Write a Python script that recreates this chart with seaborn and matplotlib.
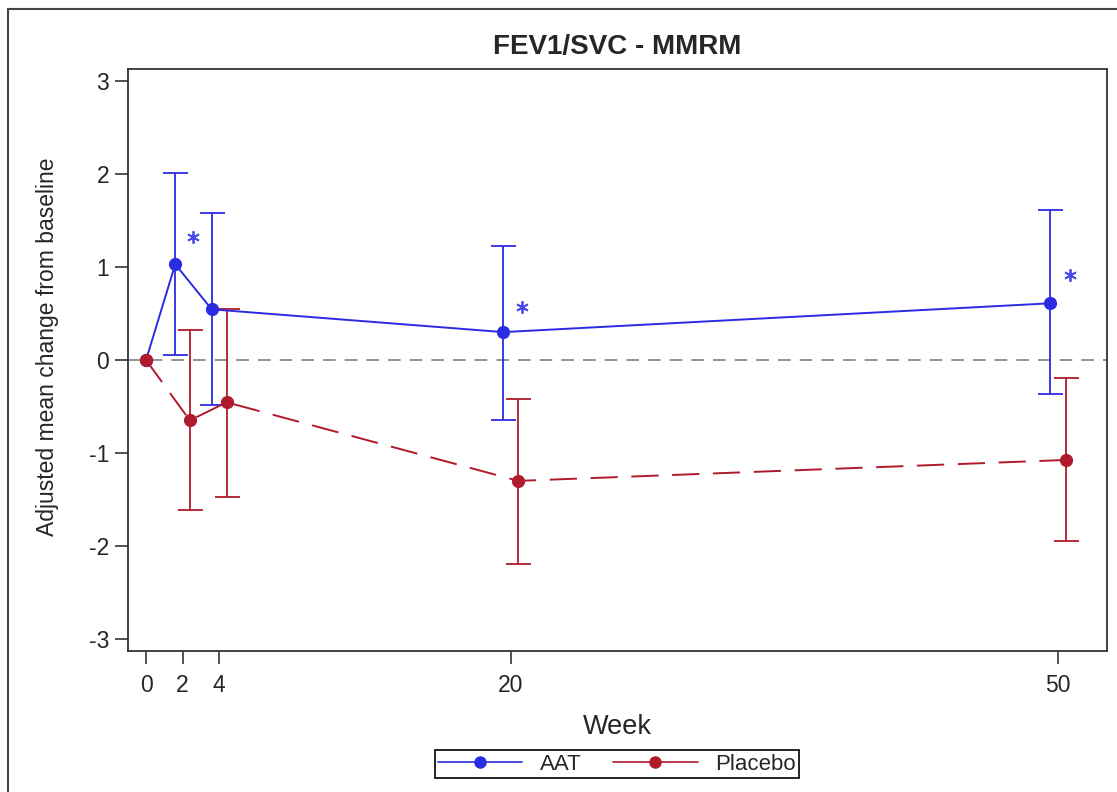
import pandas as pd
import seaborn as sns
import matplotlib.pyplot as plt
from matplotlib.lines import Line2D
from matplotlib.patches import Rectangle

# valores
semanas = [0, 2, 4, 20, 50]
grupos = ['AAT', 'Placebo']

aat_x = [0, 1.6, 3.6, 19.6, 49.6]
aat_media = [0, 1.03, 0.545, 0.30, 0.61]
aat_sup = [0, 2.01, 1.58, 1.23, 1.61]
aat_inf = [0, 0.05, -0.48, -0.645, -0.37]

pbo_x = [0, 2.4, 4.42, 20.42, 50.45]
pbo_media = [0, -0.65, -0.455, -1.30, -1.075]
pbo_sup = [0, 0.32, 0.55, -0.42, -0.197]
pbo_inf = [0, -1.61, -1.47, -2.19, -1.95]

# asteriscos de significância
estrela_x = [2.58, 20.6, 50.66]
estrela_y = [1.32, 0.57, 0.91]

cores = {'AAT': '#2b2be3', 'Placebo': '#b01a2c'}

df = pd.DataFrame({
    'x': aat_x + pbo_x,
    'media': aat_media + pbo_media,
    'grupo': ['AAT'] * len(aat_x) + ['Placebo'] * len(pbo_x),
})

sns.set_style('white')
plt.rcParams['font.family'] = ['Liberation Sans', 'DejaVu Sans']
plt.rcParams['axes.unicode_minus'] = False

fig = plt.figure(figsize=(11.17, 7.92), dpi=100)
ax = fig.add_axes([0.1146, 0.178, 0.991 - 0.1146, 0.9129 - 0.178])

ax.axhline(0, color='#8a8a8a', lw=1.3, dashes=(7, 5), zorder=1)

sns.lineplot(data=df, x='x', y='media', hue='grupo', style='grupo',
             palette=cores, dashes={'AAT': '', 'Placebo': (14, 7)},
             markers={'AAT': 'o', 'Placebo': 'o'}, markersize=9.5,
             markeredgewidth=0, lw=1.4, legend=False, ax=ax, zorder=3)

for xs, m, sup, inf, g in [(aat_x, aat_media, aat_sup, aat_inf, 'AAT'),
                           (pbo_x, pbo_media, pbo_sup, pbo_inf, 'Placebo')]:
    xs_e = xs[1:]
    m_e = m[1:]
    err = [[a - b for a, b in zip(m_e, inf[1:])], [b - a for a, b in zip(m_e, sup[1:])]]
    ax.errorbar(xs_e, m_e, yerr=err, fmt='none', ecolor=cores[g], elinewidth=1.3,
                capsize=9, capthick=1.3, zorder=2)

ax.plot(estrela_x, estrela_y, ls='none', marker=(6, 2, 0), markersize=9,
        markeredgewidth=1.3, color='#4a4ae8')

ax.set_xlim(-0.99, 52.7)
ax.set_ylim(-3.13, 3.13)
ax.set_xticks(semanas)
ax.set_yticks([-3, -2, -1, 0, 1, 2, 3])
ax.tick_params(axis='both', which='major', labelsize=16.5, length=9.5, width=1.1,
               color='#222222', direction='out', left=True, bottom=True, pad=4)
ax.tick_params(axis='x', pad=7)
for s in ax.spines.values():
    s.set_color('#333333')
    s.set_linewidth(1.3)

ax.set_xlabel('Week', fontsize=19.5, labelpad=12)
ax.set_ylabel('Adjusted mean change from baseline', fontsize=16.5)
ax.yaxis.set_label_coords(-0.071, 0.522)
ax.set_title('FEV1/SVC - MMRM', fontsize=20, fontweight='bold', pad=11)

handles = [Line2D([0], [0], color=cores[g], lw=1.2, marker='o', markersize=9,
                  markeredgewidth=0) for g in grupos]
leg = fig.legend(handles, grupos, loc='center', bbox_to_anchor=(617 / 1117, 1 - 764 / 792),
                 ncol=2, fontsize=16, frameon=True, fancybox=False, edgecolor='black',
                 framealpha=1, borderpad=0.15, handlelength=3.8, handletextpad=0.8,
                 columnspacing=1.4, borderaxespad=0)
leg.get_frame().set_linewidth(1.2)

# moldura externa
fig.patches.append(Rectangle((8 / 1117, -0.2), 1.5, 1 - 9 / 792 + 0.2, transform=fig.transFigure,
                             fill=False, edgecolor='#444444', lw=1.5, clip_on=False))

fig.savefig('out.png', dpi=100)
